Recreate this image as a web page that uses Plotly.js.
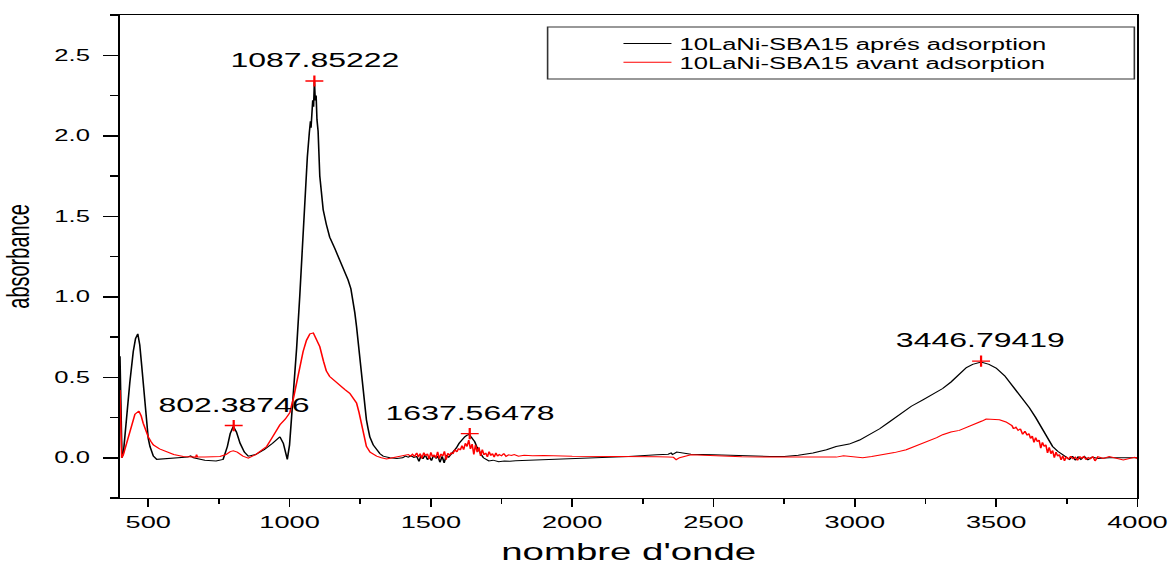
<!DOCTYPE html>
<html>
<head>
<meta charset="utf-8">
<script src="https://cdn.plot.ly/plotly-3.0.1.min.js"></script>
<style>
  html, body { margin: 0; padding: 0; background: #fff; }
  #wrap { width: 1171px; height: 570px; overflow: hidden; position: relative; }
  #plot { width: 732px; height: 570px; transform-origin: 0 0; }
</style>
</head>
<body>
<div id="wrap"><div id="plot"></div></div>
<script>
// ---- data ----
const seriesNames = ["10LaNi-SBA15 aprés adsorption", "10LaNi-SBA15 avant adsorption"];

const apresX = [400, 403, 407, 412, 423, 435, 447, 455, 463, 470, 477, 486, 494, 500, 506, 512, 518, 530, 560, 600, 640, 650, 660, 700, 740, 765, 780, 790, 801, 812, 825, 840, 854, 880, 910, 940, 966, 978, 987, 992, 1000, 1013, 1025, 1036, 1045, 1054, 1063, 1070, 1074, 1076, 1079, 1082, 1085, 1088, 1091, 1094, 1097, 1101, 1107, 1113, 1119, 1130, 1142, 1160, 1178, 1195, 1207, 1217, 1225, 1231, 1237, 1243, 1249, 1255, 1260, 1266, 1272, 1278, 1284, 1296, 1308, 1320, 1331, 1355, 1380, 1400, 1410, 1420, 1430, 1440, 1450, 1458, 1465, 1472, 1480, 1488, 1495, 1502, 1510, 1518, 1525, 1532, 1540, 1547, 1555, 1562, 1570, 1580, 1590, 1600, 1610, 1620, 1628, 1636, 1642, 1648, 1655, 1662, 1670, 1678, 1686, 1695, 1705, 1720, 1740, 1760, 1780, 1800, 1850, 1900, 2000, 2100, 2200, 2300, 2340, 2350, 2355, 2370, 2385, 2420, 2500, 2600, 2700, 2750, 2800, 2852, 2900, 2934, 2980, 3017, 3050, 3088, 3120, 3158, 3200, 3241, 3280, 3311, 3340, 3370, 3395, 3417, 3447, 3475, 3500, 3530, 3559, 3590, 3618, 3640, 3665, 3685, 3700, 3718, 3736, 3750, 3760, 3770, 3780, 3790, 3800, 3812, 3825, 3840, 3860, 3900, 3950, 4000];
const apresY = [0.63, 0.30, 0.00, 0.03, 0.26, 0.47, 0.66, 0.74, 0.77, 0.70, 0.57, 0.38, 0.19, 0.12, 0.07, 0.03, 0.01, -0.01, -0.005, 0.0, 0.005, 0.012, 0.0, -0.015, -0.02, -0.01, 0.07, 0.15, 0.195, 0.16, 0.09, 0.035, 0.01, 0.02, 0.05, 0.09, 0.13, 0.09, 0.01, -0.01, 0.08, 0.36, 0.68, 1.0, 1.33, 1.65, 1.87, 2.02, 2.09, 2.05, 2.15, 2.22, 2.18, 2.34, 2.22, 2.25, 2.10, 2.03, 1.75, 1.62, 1.54, 1.45, 1.37, 1.30, 1.23, 1.16, 1.105, 1.05, 0.98, 0.90, 0.815, 0.71, 0.61, 0.50, 0.40, 0.31, 0.236, 0.18, 0.13, 0.08, 0.05, 0.025, 0.01, 0.0, -0.005, 0.0, 0.01, 0.004, 0.012, 0.002, 0.008, -0.022, 0.012, -0.006, 0.018, -0.012, 0.006, -0.018, 0.016, -0.004, 0.01, -0.028, 0.008, -0.032, 0.016, 0.002, 0.018, 0.035, 0.06, 0.09, 0.115, 0.13, 0.14, 0.145, 0.13, 0.12, 0.10, 0.07, 0.04, 0.02, 0.0, -0.01, -0.02, -0.015, -0.025, -0.02, -0.022, -0.018, -0.015, -0.012, -0.005, 0.0, 0.008, 0.018, 0.022, 0.03, 0.02, 0.035, 0.03, 0.022, 0.018, 0.012, 0.008, 0.008, 0.015, 0.03, 0.05, 0.07, 0.085, 0.11, 0.14, 0.18, 0.22, 0.27, 0.32, 0.36, 0.40, 0.43, 0.47, 0.52, 0.56, 0.58, 0.595, 0.58, 0.557, 0.51, 0.443, 0.38, 0.31, 0.25, 0.174, 0.11, 0.07, 0.04, 0.02, 0.005, -0.01, 0.01, -0.015, 0.005, -0.01, 0.008, -0.012, 0.004, -0.005, 0.0, 0.0, 0.0];

const avantX = [400, 403, 406, 412, 423, 432, 441, 453, 467, 475, 482, 490, 500, 510, 518, 540, 565, 590, 624, 660, 668, 671, 674, 700, 754, 775, 790, 801, 815, 835, 854, 880, 900, 919, 940, 966, 985, 1001, 1015, 1025, 1036, 1048, 1060, 1072, 1084, 1095, 1107, 1120, 1130, 1142, 1160, 1178, 1195, 1213, 1225, 1237, 1246, 1255, 1263, 1272, 1285, 1308, 1325, 1343, 1365, 1390, 1410, 1420, 1428, 1435, 1442, 1450, 1456, 1462, 1468, 1475, 1481, 1488, 1494, 1500, 1506, 1512, 1518, 1524, 1530, 1536, 1542, 1548, 1554, 1560, 1566, 1572, 1578, 1585, 1592, 1598, 1604, 1610, 1616, 1622, 1628, 1634, 1640, 1646, 1652, 1658, 1664, 1670, 1676, 1682, 1688, 1694, 1700, 1706, 1712, 1718, 1724, 1730, 1736, 1742, 1750, 1758, 1766, 1775, 1785, 1795, 1810, 1830, 1860, 1900, 2000, 2100, 2200, 2300, 2340, 2350, 2358, 2368, 2380, 2420, 2600, 2800, 2900, 2920, 2935, 2960, 3000, 3028, 3060, 3099, 3140, 3182, 3220, 3253, 3290, 3311, 3340, 3370, 3400, 3429, 3450, 3465, 3490, 3512, 3535, 3550, 3556, 3562, 3570, 3578, 3586, 3594, 3602, 3610, 3616, 3622, 3628, 3634, 3640, 3646, 3652, 3658, 3664, 3670, 3676, 3682, 3688, 3694, 3700, 3706, 3712, 3718, 3724, 3730, 3736, 3742, 3748, 3756, 3764, 3772, 3780, 3788, 3796, 3804, 3810, 3818, 3826, 3834, 3842, 3850, 3860, 3880, 3900, 3950, 3990, 3998, 4000];
const avantY = [0.42, 0.10, 0.0, 0.02, 0.09, 0.16, 0.215, 0.27, 0.29, 0.26, 0.215, 0.17, 0.13, 0.10, 0.08, 0.055, 0.035, 0.02, 0.008, 0.005, 0.004, 0.02, 0.004, 0.005, 0.008, 0.02, 0.038, 0.043, 0.035, 0.01, -0.002, 0.02, 0.045, 0.07, 0.13, 0.205, 0.24, 0.28, 0.38, 0.47, 0.567, 0.66, 0.73, 0.77, 0.775, 0.74, 0.69, 0.60, 0.54, 0.505, 0.475, 0.45, 0.425, 0.40, 0.375, 0.34, 0.28, 0.195, 0.12, 0.07, 0.035, 0.01, 0.0, -0.008, 0.0, 0.008, 0.015, 0.02, 0.01, 0.022, 0.008, 0.03, 0.004, 0.026, -0.004, 0.032, 0.012, 0.024, -0.008, 0.034, 0.006, 0.018, 0.0, 0.036, -0.006, 0.024, 0.01, 0.04, -0.012, 0.028, 0.014, 0.032, 0.024, 0.05, 0.036, 0.058, 0.048, 0.075, 0.05, 0.09, 0.07, 0.11, 0.055, 0.085, 0.02, 0.08, 0.035, 0.065, 0.012, 0.05, 0.018, 0.03, 0.006, 0.038, 0.014, 0.026, 0.004, 0.03, 0.01, 0.02, 0.012, 0.026, 0.008, 0.018, 0.014, 0.02, 0.01, 0.016, 0.012, 0.014, 0.01, 0.01, 0.008, 0.006, 0.005, 0.004, 0.003, -0.012, 0.0, 0.018, 0.006, 0.004, 0.002, 0.002, 0.004, 0.012, 0.005, 0.0, 0.008, 0.018, 0.032, 0.05, 0.075, 0.10, 0.125, 0.143, 0.16, 0.17, 0.19, 0.21, 0.228, 0.24, 0.24, 0.236, 0.222, 0.21, 0.20, 0.18, 0.19, 0.17, 0.18, 0.145, 0.165, 0.14, 0.15, 0.12, 0.135, 0.095, 0.125, 0.10, 0.11, 0.06, 0.095, 0.07, 0.08, 0.03, 0.065, 0.025, 0.045, 0.0, 0.035, 0.01, 0.02, -0.014, 0.012, -0.02, 0.006, -0.01, 0.01, -0.006, 0.004, -0.016, 0.008, -0.004, 0.01, -0.012, 0.002, -0.006, 0.008, -0.02, 0.006, -0.004, 0.007, -0.014, 0.003, -0.004, 0.003, -0.002, 0.002, 0.0, 0.0, 0.0, 0.37];

const peakX = [802.38746, 1087.85222, 1637.56478, 3446.79419];
const peakY = [0.20, 2.34, 0.15, 0.60];
const peakLabels = ["802.38746", "1087.85222", "1637.56478", "3446.79419"];

const xTitle = "nombre d'onde";
const yTitle = "absorbance";

// ---- drawing ----
const W = 1171, INNER_W = 732, S = W / INNER_W;
document.getElementById('plot').style.transform = 'scaleX(' + S + ')';
const FONT = 'Liberation Sans, Arial, sans-serif';

const traces = [
  { x: apresX, y: apresY, type: 'scatter', mode: 'lines', name: seriesNames[0],
    line: { color: '#000000', width: 1 }, legend: 'legend' },
  { x: avantX, y: avantY, type: 'scatter', mode: 'lines', name: seriesNames[1],
    line: { color: '#ff0000', width: 1 }, legend: 'legend2' },
  { x: peakX, y: peakY, type: 'scatter', mode: 'markers', showlegend: false,
    marker: { symbol: 'cross-thin-open', size: 8, color: '#ff0000', line: { color: '#ff0000', width: 1.4 } } }
];

const annotations = peakX.map((px, i) => ({
  x: px, y: peakY[i], xref: 'x', yref: 'y', text: peakLabels[i], showarrow: false,
  yshift: 21, yanchor: 'middle', xanchor: 'center',
  font: { family: FONT, size: 20, color: '#000' }
}));

const legendStyle = (y) => ({
  x: 0.487, y: y, xanchor: 'left', yanchor: 'top',
  bgcolor: 'rgba(0,0,0,0)', borderwidth: 0,
  font: { family: FONT, size: 16, color: '#000' }
});

const layout = {
  width: INNER_W, height: 570,
  margin: { l: 75, r: 20.6, t: 15, b: 72 },
  paper_bgcolor: '#ffffff', plot_bgcolor: '#ffffff',
  font: { family: FONT, color: '#000' },
  showlegend: true,
  legend: legendStyle(0.976),
  legend2: legendStyle(0.937),
  shapes: [{
    type: 'rect', xref: 'paper', yref: 'paper',
    x0: 0.4203, x1: 0.997, y0: 0.8675, y1: 0.975,
    line: { color: '#333333', width: 1 }, fillcolor: 'rgba(0,0,0,0)'
  }],
  xaxis: {
    range: [400, 4000], tick0: 0, dtick: 500,
    showgrid: false, zeroline: false,
    showline: true, linecolor: '#000', linewidth: 1.2, mirror: true,
    ticks: 'outside', ticklen: 8, tickwidth: 1, tickcolor: '#000',
    minor: { dtick: 250, tick0: 0, ticks: 'outside', ticklen: 5, tickwidth: 1, tickcolor: '#000', showgrid: false },
    tickfont: { family: FONT, size: 17, color: '#000' },
    title: { text: xTitle, font: { family: FONT, size: 24, color: '#000' }, standoff: 12 }
  },
  yaxis: {
    range: [-0.25, 2.75], tick0: 0, dtick: 0.5, tickformat: '.1f',
    showgrid: false, zeroline: false,
    showline: true, linecolor: '#000', linewidth: 1.2, mirror: true,
    ticks: 'outside', ticklen: 9.4, tickwidth: 1.5, tickcolor: '#000',
    ticklabelstandoff: 5,
    minor: { dtick: 0.25, tick0: 0, ticks: 'outside', ticklen: 5, tickwidth: 1.5, tickcolor: '#000', showgrid: false },
    tickfont: { family: FONT, size: 16, color: '#000' },
    title: { text: yTitle, font: { family: FONT, size: 20, color: '#000' }, standoff: 10 }
  },
  annotations: annotations
};

Plotly.newPlot('plot', traces, layout, { staticPlot: true, displayModeBar: false });
</script>
</body>
</html>
